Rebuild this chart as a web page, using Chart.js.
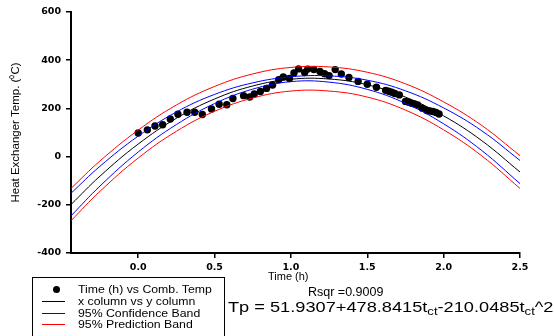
<!DOCTYPE html>
<html lang="en">
<head>
<meta charset="UTF-8">
<title>Heat exchanger temperature fit</title>
<script src="https://cdn.jsdelivr.net/npm/chart.js"></script>
<style>
    body { margin: 0; background: #fff; overflow: hidden; }
    #wrap { position: relative; width: 554px; height: 336px; font-family: "Liberation Sans", Arial, sans-serif; color: #000; }
    #chart { position: absolute; left: 0; top: 0; }
    .txt { position: absolute; white-space: nowrap; line-height: 1; transform-origin: left top; }
    .txt sub { font-size: 0.72em; vertical-align: -0.3em; line-height: 0; }
    #legend { position: absolute; left: 32px; top: 277px; width: 193px; height: 70px; border: 1.5px solid #000; box-sizing: border-box; }
    .swatch { position: absolute; height: 1px; width: 23px; left: 9px; }
    .dot { position: absolute; width: 7px; height: 7px; border-radius: 50%; background: #000; }
</style>
</head>
<body>
<div id="wrap">
    <canvas id="chart" width="554" height="336"></canvas>
    <div id="legend"></div>
    <div class="txt" style="left:268px; top:271px; font-size:11px;">Time (h)</div>
    <div class="txt" style="left:308px; top:285.5px; font-size:12.5px;">Rsqr =0.9009</div>
    <div class="txt" style="left:228px; top:300px; font-size:14px; transform:scaleX(1.3);">Tp = 51.9307+478.8415t<sub>ct</sub>-210.0485t<sub>ct</sub>^2</div>
</div>

<script>
// measured points: Time (h) vs Comb. Temp
const timeH = [0.00, 0.06, 0.11, 0.16, 0.21, 0.26, 0.32, 0.37, 0.42, 0.48,
               0.53, 0.58, 0.62, 0.69, 0.73, 0.76, 0.80, 0.84, 0.88, 0.92,
               0.95, 0.99, 1.02, 1.05, 1.09, 1.11, 1.15, 1.19, 1.22, 1.25,
               1.29, 1.33, 1.38, 1.44, 1.50, 1.56, 1.62, 1.64, 1.66, 1.68,
               1.71, 1.75, 1.77, 1.79, 1.81, 1.83, 1.86, 1.89, 1.91, 1.93, 1.95, 1.97];
const combTemp = [98, 111, 127, 132, 156, 176, 184, 184, 175, 198,
                  217, 215, 241, 253, 247, 260, 270, 283, 297, 319,
                  330, 324, 347, 364, 349, 363, 361, 353, 344, 336,
                  361, 343, 328, 312, 300, 288, 275, 271, 267, 262,
                  256, 229, 226, 221, 218, 214, 201, 191, 189, 187, 183, 177];

// regression curve and bands
const curveT    = [-0.44, -0.25, 0, 0.25, 0.5, 0.75, 1.0, 1.25, 1.5, 1.75, 2.0, 2.25, 2.5];
const fitLine   = [-199, -81, 52, 159, 239, 293, 321, 322, 298, 247, 169, 66, -64];
const confUpper = [-152, -40, 85, 185, 258, 306, 331, 335, 317, 273, 202, 107, -16];
const confLower = [-246, -122, 19, 133, 220, 280, 311, 309, 279, 221, 136, 25, -112];
const predUpper = [-132, -18, 110, 214, 291, 343, 370, 372, 350, 302, 227, 129, 4];
const predLower = [-266, -144, -6, 105, 188, 243, 272, 272, 247, 193, 111, 3, -132];

const legendItems = [
    { label: 'Time (h) vs Comb. Temp', kind: 'dot', color: '#000' },
    { label: 'x column vs y column', kind: 'line', color: '#000' },
    { label: '95% Confidence Band', kind: 'line', color: '#0000ff' },
    { label: '95% Prediction Band', kind: 'line', color: '#ff0000' }
];

function pairs(xs, ys) {
    return xs.map((x, i) => ({ x: x, y: ys[i] }));
}

function curve(label, ys, color) {
    return {
        label: label,
        data: pairs(curveT, ys),
        showLine: true,
        borderColor: color,
        borderWidth: 1,
        pointRadius: 0,
        tension: 0.4,
        order: 1
    };
}

Chart.defaults.font.family = '"Liberation Sans", Arial, sans-serif';
Chart.defaults.color = '#000';

const tickFont = { family: '"DejaVu Sans", sans-serif', size: 9.5, weight: 'bold' };

new Chart(document.getElementById('chart'), {
    type: 'scatter',
    data: {
        datasets: [
            curve('x column vs y column', fitLine, '#000000'),
            curve('95% Confidence Band', confUpper, '#0000ff'),
            curve('95% Confidence Band', confLower, '#0000ff'),
            curve('95% Prediction Band', predUpper, '#ff0000'),
            curve('95% Prediction Band', predLower, '#ff0000'),
            {
                label: 'Time (h) vs Comb. Temp',
                data: pairs(timeH, combTemp),
                pointRadius: 3.7,
                pointBackgroundColor: '#000',
                pointBorderWidth: 0,
                order: 10
            }
        ]
    },
    options: {
        responsive: false,
        animation: false,
        layout: { padding: { top: 12, right: 34, left: 0, bottom: 0 } },
        plugins: { legend: { display: false }, tooltip: { enabled: false } },
        scales: {
            x: {
                type: 'linear',
                min: -0.44,
                max: 2.5,
                afterFit: s => { s.height = 83; },
                ticks: {
                    stepSize: 0.5,
                    includeBounds: false,
                    autoSkip: false,
                    maxRotation: 0,
                    padding: 4,
                    font: tickFont,
                    color: '#000',
                    callback: v => Number(v).toFixed(1)
                },
                grid: { drawOnChartArea: false, drawTicks: true, tickLength: 5, color: '#000', lineWidth: 1.5 },
                border: { color: '#000', width: 2 }
            },
            y: {
                min: -400,
                max: 600,
                afterFit: s => { s.width = 71; },
                ticks: { stepSize: 200, padding: 5, font: tickFont, color: '#000' },
                grid: { drawOnChartArea: false, drawTicks: true, tickLength: 5, color: '#000', lineWidth: 1.5 },
                border: { color: '#000', width: 2 },
                title: {
                    display: true,
                    text: 'Heat Exchanger Temp. (\u2070C)',
                    font: { size: 11.5 },
                    color: '#000',
                    padding: { top: 9, bottom: 0 }
                }
            }
        }
    }
});

// legend box at the bottom left
const legendBox = document.getElementById('legend');
const rowTops = [6, 18, 29.5, 41];
legendItems.forEach((item, i) => {
    const mid = rowTops[i] + 5.5;
    if (item.kind === 'dot') {
        const d = document.createElement('div');
        d.className = 'dot';
        d.style.left = (57 - 32 - 3.5 - 1.5) + 'px';
        d.style.top = (mid - 4) + 'px';
        legendBox.appendChild(d);
    } else {
        const l = document.createElement('div');
        l.className = 'swatch';
        l.style.top = (mid - 0.5) + 'px';
        l.style.background = item.color;
        legendBox.appendChild(l);
    }
    const t = document.createElement('div');
    t.className = 'txt';
    t.style.left = '44.5px';
    t.style.top = rowTops[i] + 'px';
    t.style.fontSize = '10.5px';
    t.style.transform = 'scaleX(1.17)';
    t.textContent = item.label;
    legendBox.appendChild(t);
});
</script>
</body>
</html>
